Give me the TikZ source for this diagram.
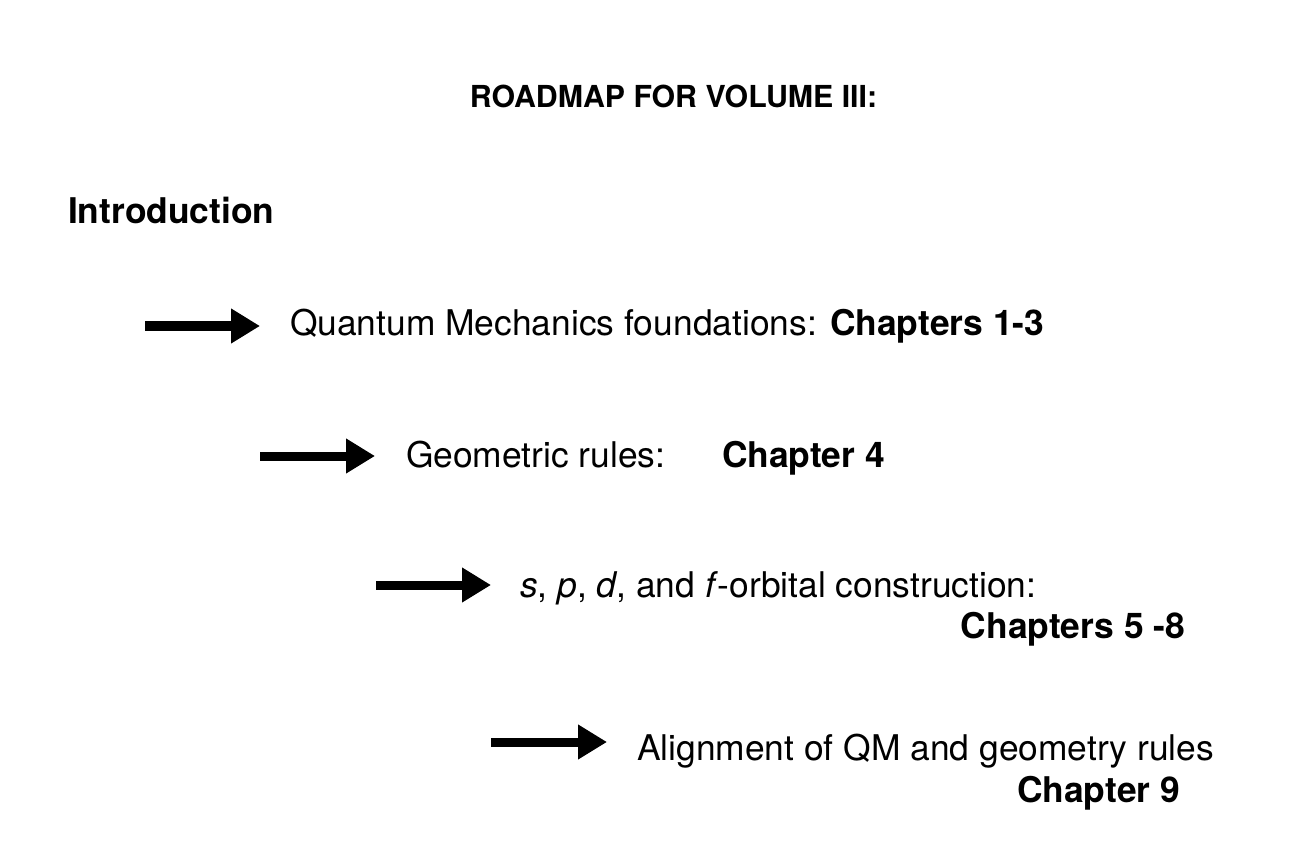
\documentclass[tikz,border=0pt]{standalone}
\usepackage{fontspec}
\setmainfont{TeX Gyre Heros}
\usetikzlibrary{arrows.meta}
\begin{document}
\begin{tikzpicture}[x=1pt,y=-1pt,
  txt/.style={inner sep=0pt,outer sep=0pt,anchor=base west,font=\fontsize{35.4}{42}\selectfont},
  boldtxt/.style={txt,font=\fontsize{35.4}{42}\selectfont\bfseries},
  bigarrow/.style={line width=9pt,-{Triangle[length=29pt,width=33pt]}}]
\fill[white] (0,0) rectangle (1316,858);
\useasboundingbox (0,0) rectangle (1316,858);
\node[inner sep=0pt,anchor=base,font=\fontsize{30.3}{36}\selectfont\bfseries] (title) at (673.5,108) {ROADMAP FOR VOLUME III:};
\node[boldtxt] (intro) at (68,224) {Introduction};
\node[txt] (qm) at (290,335) {Quantum Mechanics foundations: \textbf{Chapters 1-3}};
\node[txt] (geo) at (406,467) {Geometric rules:};
\node[boldtxt] (ch4) at (722,467) {Chapter 4};
\node[txt] (orb) at (520,597) {\textit{s}, \textit{p}, \textit{d}, and \textit{f}-orbital construction:};
\node[boldtxt,anchor=base east] (ch58) at (1185,638) {Chapters 5 -8};
\node[txt] (align) at (637,760) {Alignment of QM and geometry rules};
\node[boldtxt,anchor=base east] (ch9) at (1180,802) {Chapter 9};
\coordinate (a1s) at (145,326); \coordinate (a1e) at (260,326);
\coordinate (a2s) at (260,456); \coordinate (a2e) at (375,456);
\coordinate (a3s) at (376,585); \coordinate (a3e) at (491,585);
\coordinate (a4s) at (491,742); \coordinate (a4e) at (607,742);
\draw[bigarrow] (a1s) -- (a1e);
\draw[bigarrow] (a2s) -- (a2e);
\draw[bigarrow] (a3s) -- (a3e);
\draw[bigarrow] (a4s) -- (a4e);
\end{tikzpicture}
\end{document}
